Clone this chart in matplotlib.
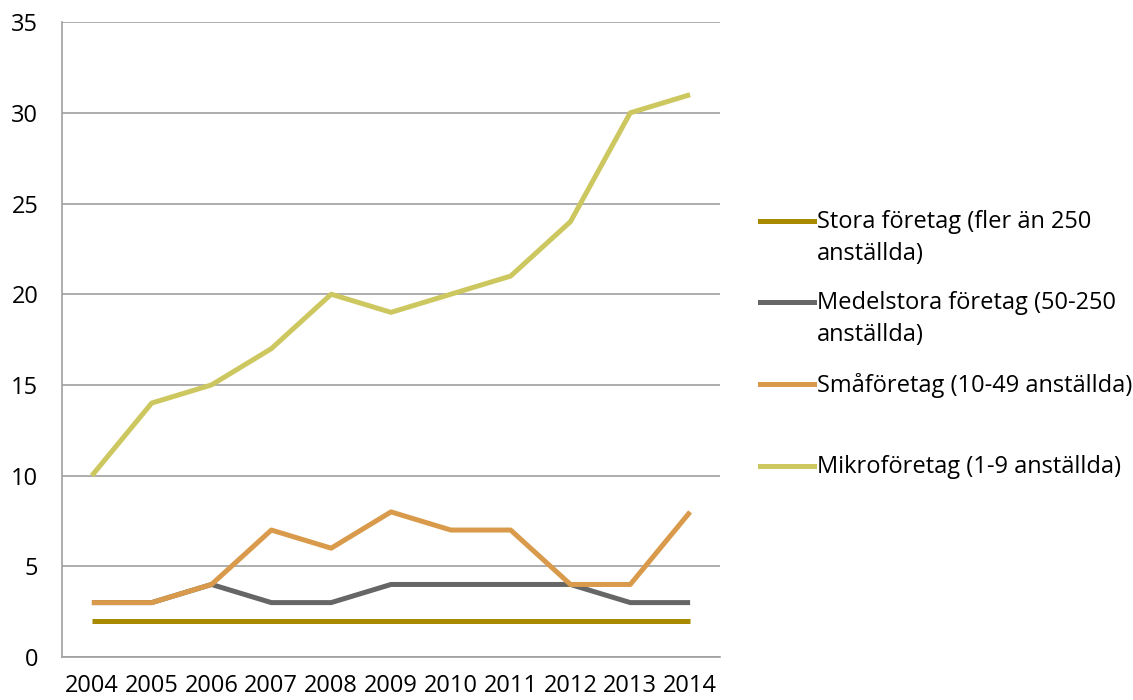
import matplotlib.pyplot as plt
from matplotlib.lines import Line2D

years = ["2004", "2005", "2006", "2007", "2008", "2009", "2010", "2011", "2012", "2013", "2014"]
stora = [2, 2, 2, 2, 2, 2, 2, 2, 2, 2, 2]
medel = [3, 3, 4, 3, 3, 4, 4, 4, 4, 3, 3]
sma = [3, 3, 4, 7, 6, 8, 7, 7, 4, 4, 8]
mikro = [10, 14, 15, 17, 20, 19, 20, 21, 24, 30, 31]

labels = ["Stora företag (fler än 250\nanställda)",
          "Medelstora företag (50-250\nanställda)",
          "Småföretag (10-49 anställda)",
          "Mikroföretag (1-9 anställda)"]
colors = ["#a88a00", "#666666", "#d99b4b", "#cdc760"]
series = [stora, medel, sma, mikro]

plt.rcParams['font.family'] = ['Open Sans', 'DejaVu Sans']

fig = plt.figure(figsize=(11.33, 7), dpi=100)
ax = fig.add_axes([0.0547, 0.0614, 0.5808, 0.907])

x = range(len(years))
for vals, c in zip(series, colors):
    ax.plot(x, vals, color=c, lw=3.6, solid_joinstyle='round', solid_capstyle='butt', zorder=3)

ax.set_xlim(-0.5, len(years) - 0.5)
ax.set_ylim(0, 35)
ax.set_yticks(range(0, 36, 5))
ax.set_xticks(list(x))
ax.set_xticklabels(years)
ax.yaxis.grid(True, color="#a0a0a0", lw=1.2)
ax.set_axisbelow(True)
for s in ["top", "right"]:
    ax.spines[s].set_visible(False)
for s in ["left", "bottom"]:
    ax.spines[s].set_color("#a0a0a0")
    ax.spines[s].set_linewidth(1.2)
ax.tick_params(length=0, labelsize=17, colors="black")
ax.tick_params(axis="y", pad=17)
ax.tick_params(axis="x", pad=12)

# legend drawn by hand so the line sits next to the first text line
leg_y = [221, 302, 384, 466]
for yy, lab, c in zip(leg_y, labels, colors):
    fy = 1 - yy / 700
    fig.add_artist(Line2D([760 / 1133, 814 / 1133], [fy, fy], color=c, lw=3.6))
    fig.text(817 / 1133, fy + 11 / 700, lab, fontsize=17, va="top", ha="left", linespacing=1.45)

fig.savefig("out.png", dpi=100)
